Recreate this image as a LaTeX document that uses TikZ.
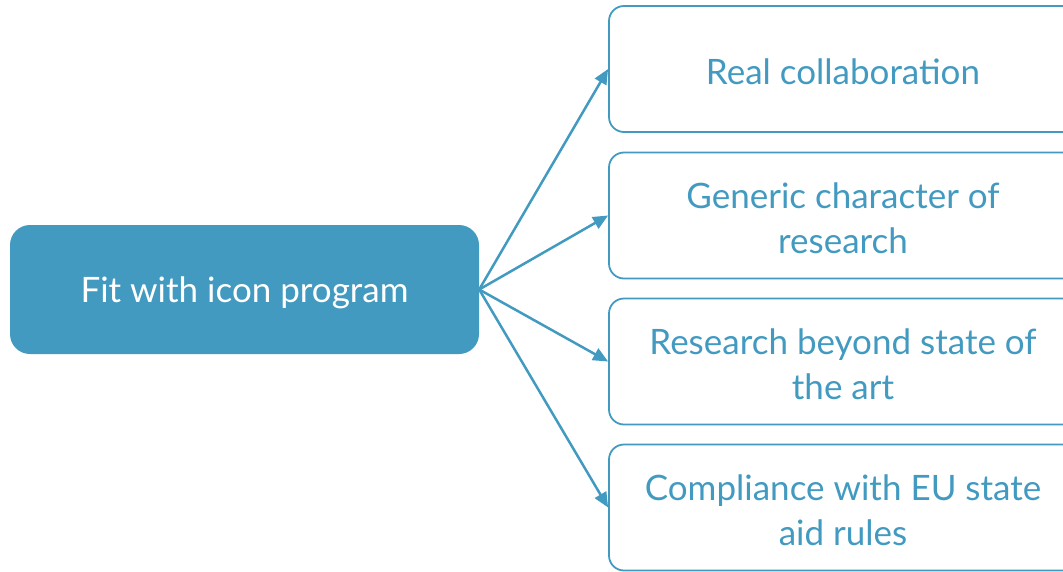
\documentclass[tikz,border=0pt]{standalone}
\usepackage{fontspec}
\setmainfont{Lato}
\definecolor{IconBlue}{RGB}{66,154,192}
\usetikzlibrary{arrows.meta,positioning}

\begin{document}
\begin{tikzpicture}[x=1pt,y=-1pt,
  mainbox/.style={rounded corners=20pt,fill=IconBlue,text=white,
    minimum width=469pt,minimum height=129pt,text height=32pt,
    font=\fontsize{35}{40}\selectfont},
  itembox/.style={draw=IconBlue,line width=1.8pt,rounded corners=15pt,
    text=IconBlue,minimum width=468pt,minimum height=126pt,align=center,
    font=\fontsize{35}{45}\selectfont},
  oneline/.style={text height=32pt},
  twolines/.style={text height=76pt},
  link/.style={IconBlue,line width=2.5pt,-{Triangle[length=15pt,width=13pt]}}]
  \useasboundingbox (0,0) rectangle (1063,571);
  %% Main box
  \node[mainbox] (fit) at (244.5,289.5) {Fit with icon program};
  %% Criteria boxes
  \node[itembox,oneline]  (collab)   at (843,69)    {Real collaboration};
  \node[itembox,twolines] (generic)  at (843,215.5) {Generic character of\\research};
  \node[itembox,twolines] (beyond)   at (843,361.5) {Research beyond state of\\the art};
  \node[itembox,twolines] (stateaid) at (843,507.5) {Compliance with EU state\\aid rules};
  %% Links
  \foreach \b in {collab,generic,beyond,stateaid}
    \draw[link] (fit.east) -- (\b.west);
\end{tikzpicture}
\end{document}
